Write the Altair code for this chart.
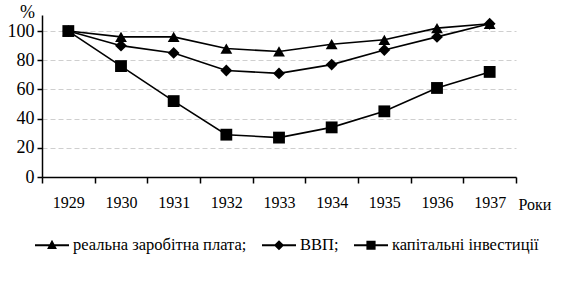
import altair as alt
import pandas as pd

years = ["1929", "1930", "1931", "1932", "1933", "1934", "1935", "1936", "1937"]
wages = [100, 96, 96, 88, 86, 91, 94, 102, 105]
gdp = [100, 90, 85, 73, 71, 77, 87, 96, 105]
invest = [100, 76, 52, 29, 27, 34, 45, 61, 72]
series_names = ["реальна заробітна плата;", "ВВП;", "капітальні інвестиції"]

rows = []
for name, vals in zip(series_names, [wages, gdp, invest]):
    for y, v in zip(years, vals):
        rows.append({"year": y, "value": v, "series": name})
df = pd.DataFrame(rows)

FONT = "Liberation Serif"

x_enc = alt.X(
    "year:O",
    sort=years,
    scale=alt.Scale(type="band", paddingInner=0, paddingOuter=0),
    axis=alt.Axis(
        title="Роки", titleFont=FONT, titleFontSize=16, titleFontWeight="normal",
        titleColor="black", titleAngle=0, titleAlign="left", titleBaseline="top",
        titleX=476, titleY=19,
        labelFont=FONT, labelFontSize=16, labelColor="black", labelAngle=0,
        labelPadding=11, tickBand="extent", tickSize=6, tickColor="black",
        tickWidth=1.5, domainColor="black", domainWidth=1.5, grid=False,
    ),
)
y_enc = alt.Y(
    "value:Q",
    scale=alt.Scale(domain=[0, 111], nice=False),
    axis=alt.Axis(
        values=[0, 20, 40, 60, 80, 100],
        title="%", titleFont=FONT, titleFontSize=18, titleFontWeight="normal",
        titleColor="black", titleAngle=0, titleAlign="center", titleBaseline="top",
        titleX=-15, titleY=-12,
        labelFont=FONT, labelFontSize=18, labelColor="black", labelPadding=3,
        tickSize=5, tickColor="black", tickWidth=1.5,
        domainColor="black", domainWidth=1.5,
        grid=True, gridColor="#cfcfcf", gridDash=[5, 3], gridWidth=1,
    ),
)

lines = alt.Chart(df).mark_line(color="black", strokeWidth=1.6).encode(
    x=x_enc, y=y_enc, detail="series:N"
)

points = alt.Chart(df).mark_point(filled=True, color="black", size=140, opacity=1).encode(
    x=x_enc, y=y_enc,
    shape=alt.Shape(
        "series:N",
        scale=alt.Scale(domain=series_names, range=["triangle-up", "diamond", "square"]),
        legend=None,
    ),
)

legend_paths = [
    "M-1,-0.055H1V0.055H-1ZM0,-0.32L0.29,0.22L-0.29,0.22Z",
    "M-1,-0.055H1V0.055H-1ZM0,-0.3L0.3,0L0,0.3L-0.3,0Z",
    "M-1,-0.055H1V0.055H-1ZM-0.27,-0.27H0.27V0.27H-0.27Z",
]

legend_layer = alt.Chart(df).transform_filter("false").mark_point(
    filled=True, color="black", opacity=1
).encode(
    x=x_enc, y=y_enc,
    shape=alt.Shape(
        "series:N",
        scale=alt.Scale(domain=series_names, range=legend_paths),
        legend=alt.Legend(
            title=None, orient="none", direction="horizontal",
            legendX=-8, legendY=212, padding=0,
            symbolSize=1156, symbolFillColor="black", symbolOpacity=1,
            labelFont=FONT, labelFontSize=16.5, labelColor="black", labelLimit=0,
            labelOffset=3, columnPadding=12,
        ),
    ),
)

chart = alt.layer(lines, points, legend_layer).resolve_scale(
    shape="independent"
).properties(
    width=474, height=162,
    autosize=alt.AutoSizeParams(type="none"),
    padding={"left": 42, "top": 15, "right": 49, "bottom": 104},
    background="white",
).configure_view(stroke=None)

chart.save("out.html", embed_options={"renderer": "svg", "actions": False})
